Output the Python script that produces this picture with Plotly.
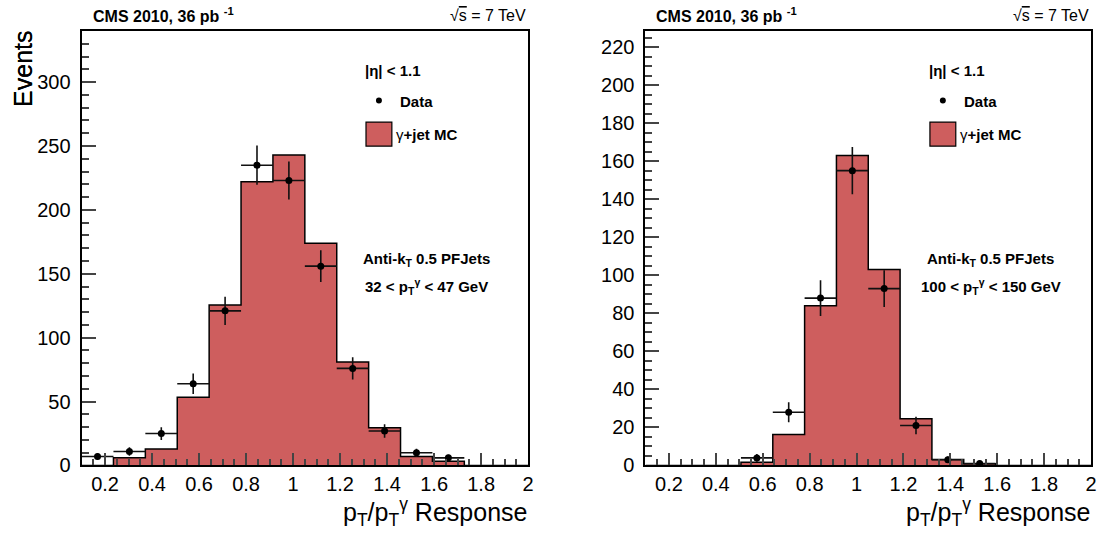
import numpy as np
import plotly.graph_objects as go

# response histogram binning (14 equal bins between 0.1 and 2.0)
bin_lo, bin_hi, n_bins = 0.1, 2.0, 14

# 32 < pT(gamma) < 47 GeV
mc_low = [0, 6, 13, 53.5, 125.5, 222, 243, 174, 81, 29.5, 7, 3.4, 0, 0]
data_low = [7, 11, 25, 64, 121, 235, 223, 156, 76, 27, 10, 6, None, None]

# 100 < pT(gamma) < 150 GeV
mc_high = [0, 0, 0, 1.7, 16.3, 84, 163, 103, 24.6, 3.2, 0.9, 0, 0, 0]
data_high = [None, None, None, 4, 28, 88, 155, 93, 21, 3, 1, None, None, None]

pt_labels = ["32 < p<sub>T</sub><sup>γ</sup> < 47 GeV",
             "100 < p<sub>T</sub><sup>γ</sup> < 150 GeV"]
y_max = [340, 228.4]
y_dtick = [50, 20]
y_minor = [10, 5]

W, H = 1106, 537
SY = 1.022  # vertical calibration against the reference picture
RED = "rgb(206,94,94)"
FONT = "Liberation Sans, Arial, Helvetica, sans-serif"


def px(x):
    return x / W


def py(y):
    return 1 - y * SY / H


edges = np.linspace(bin_lo, bin_hi, n_bins + 1)
centers = 0.5 * (edges[:-1] + edges[1:])
half_w = 0.5 * (edges[1] - edges[0])

# frame of each pad in pixels: left, right, top, bottom
frames = [(82, 531, 31, 465), (649, 1097, 31, 465)]
mcs = [mc_low, mc_high]
datas = [data_low, data_high]

fig = go.Figure()
annotations = []
shapes = []

for i, (l, r, t, b) in enumerate(frames):
    xa = "x" if i == 0 else "x2"
    ya = "y" if i == 0 else "y2"
    mc = mcs[i]
    fig.add_trace(go.Scatter(
        x=edges, y=list(mc) + [mc[-1]], xaxis=xa, yaxis=ya,
        mode="lines", line=dict(shape="hv", color="black", width=1.5),
        fill="tozeroy", fillcolor=RED, showlegend=False, hoverinfo="skip"))

    dx = [c for c, d in zip(centers, datas[i]) if d is not None]
    dy = [d for d in datas[i] if d is not None]
    fig.add_trace(go.Scatter(
        x=dx, y=dy, xaxis=xa, yaxis=ya, mode="markers",
        marker=dict(color="black", size=7),
        error_x=dict(type="constant", value=half_w, color="#111", thickness=1.6, width=0),
        error_y=dict(type="data", array=np.sqrt(dy), color="#111", thickness=1.6, width=0),
        showlegend=False))

    axis_common = dict(
        ticks="inside", showline=True, linecolor="black", linewidth=2,
        mirror=True, showgrid=False, zeroline=False,
        tickfont=dict(family=FONT, size=20, color="black"), tickwidth=1.5)
    xaxis = dict(axis_common, domain=[px(l), px(r)], range=[bin_lo, bin_hi],
                 tick0=0, dtick=0.2, ticklen=12, anchor=ya,
                 minor=dict(tick0=0, dtick=0.05, ticks="inside", ticklen=6, tickwidth=1.5))
    yaxis = dict(axis_common, domain=[py(b), py(t)], range=[0, y_max[i]],
                 tick0=0, dtick=y_dtick[i], ticklen=14, anchor=xa, ticklabelstandoff=5,
                 minor=dict(tick0=0, dtick=y_minor[i], ticks="inside", ticklen=7, tickwidth=1.5))
    if i == 0:
        fig.update_layout(xaxis=xaxis, yaxis=yaxis)
    else:
        fig.update_layout(xaxis2=xaxis, yaxis2=yaxis)

    def txt(x, y, s, size, bold=False, xanchor="left", yanchor="middle", angle=0):
        annotations.append(dict(
            x=px(x), y=py(y), xref="paper", yref="paper", text=f"<b>{s}</b>" if bold else s,
            showarrow=False, xanchor=xanchor, yanchor=yanchor, textangle=angle,
            font=dict(family=FONT, size=size, color="black")))

    txt(l + 9, 15, "CMS 2010, 36 pb <sup>-1</sup>", 16, bold=True)
    txt(r, 15, "√<span style='text-decoration:overline'>s</span> = 7 TeV", 16, xanchor="right")
    txt(23, 29, "Events", 25, xanchor="center", yanchor="top", angle=-90)
    txt(r + 1, 511, "p<sub>T</sub>/p<sub>T</sub><sup>γ</sup> Response", 25, xanchor="right")

    # legend block
    txt(l + 283, 70, "|η| < 1.1", 15, bold=True)
    shapes.append(dict(type="circle", xref="paper", yref="paper",
                       x0=px(l + 296), x1=px(l + 302), y0=py(97.5), y1=py(103.5),
                       fillcolor="black", line=dict(color="black", width=0)))
    txt(l + 318, 101, "Data", 15, bold=True)
    shapes.append(dict(type="rect", xref="paper", yref="paper",
                       x0=px(l + 286), x1=px(l + 312), y0=py(146), y1=py(122),
                       fillcolor=RED, line=dict(color="black", width=1.2)))
    txt(l + 314, 134, "γ<b>+jet MC</b>", 15)

    txt(l + 347, 259, "Anti-k<sub>T</sub> 0.5 PFJets", 15, bold=True, xanchor="center")
    txt(l + 347, 286, pt_labels[i], 15, bold=True, xanchor="center")

fig.update_layout(
    width=W, height=H, margin=dict(l=0, r=0, t=0, b=0),
    paper_bgcolor="white", plot_bgcolor="white",
    annotations=annotations, shapes=shapes, showlegend=False)

# pin the figure to the window origin (no page margin, no scrolling)
pin = ("document.documentElement.style.overflow='hidden';"
       "document.body.style.margin='0';document.body.style.overflow='hidden';"
       "var d=document.getElementById('{plot_id}');"
       "d.style.position='fixed';d.style.left='0px';d.style.top='0px';")
fig.write_html("out.html", post_script=pin, config={"displayModeBar": False})
